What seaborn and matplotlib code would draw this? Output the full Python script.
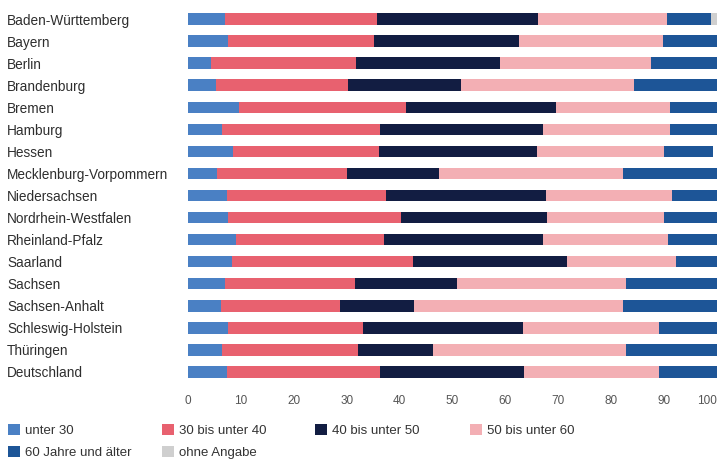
import numpy as np
import pandas as pd
import matplotlib
matplotlib.use("Agg")
import matplotlib.pyplot as plt
from matplotlib.patches import Patch
import seaborn as sns

states = ["Baden-Württemberg", "Bayern", "Berlin", "Brandenburg", "Bremen", "Hamburg",
          "Hessen", "Mecklenburg-Vorpommern", "Niedersachsen", "Nordrhein-Westfalen",
          "Rheinland-Pfalz", "Saarland", "Sachsen", "Sachsen-Anhalt", "Schleswig-Holstein",
          "Thüringen", "Deutschland"]

groups = ["unter 30", "30 bis unter 40", "40 bis unter 50", "50 bis unter 60",
          "60 Jahre und älter", "ohne Angabe"]

unter_30 = [7.0, 7.5, 4.3, 5.3, 9.6, 6.4, 8.5, 5.5, 7.3, 7.5, 9.1, 8.3, 7.0, 6.2, 7.5, 6.4, 7.3]
bis_40 = [28.8, 27.7, 27.5, 24.9, 31.7, 29.9, 27.6, 24.5, 30.1, 32.7, 28.0, 34.2, 24.6, 22.5, 25.6, 25.8, 29.0]
bis_50 = [30.3, 27.4, 27.2, 21.4, 28.3, 30.9, 29.8, 17.5, 30.2, 27.6, 30.1, 29.2, 19.2, 14.0, 30.3, 14.2, 27.2]
bis_60 = [24.4, 27.2, 28.5, 32.7, 21.5, 23.9, 24.1, 34.8, 23.8, 22.2, 23.5, 20.5, 32.0, 39.6, 25.7, 36.4, 25.6]
ab_60 = [8.3, 10.2, 12.5, 15.7, 8.9, 8.9, 9.3, 17.7, 8.6, 10.0, 9.3, 7.8, 17.2, 17.7, 10.9, 17.2, 10.9]
ohne = [1.2, 0, 0, 0, 0, 0, 0, 0, 0, 0, 0, 0, 0, 0, 0, 0, 0]

colors = ["#4a80c4", "#e8616f", "#121d42", "#f3afb4", "#1d5597", "#cfcfcf"]

sns.set_theme(style="white")
plt.rcParams["font.family"] = ["Liberation Sans", "DejaVu Sans"]

df = pd.DataFrame({"Land": states, "g0": unter_30, "g1": bis_40, "g2": bis_50,
                   "g3": bis_60, "g4": ab_60, "g5": ohne})
cols = ["g0", "g1", "g2", "g3", "g4", "g5"]
cum = df[cols].cumsum(axis=1)

W, H = 719, 462
fig = plt.figure(figsize=(W / 100, H / 100), dpi=100)
ax = fig.add_axes([188 / W, 1 - 383 / H, (717 - 188) / W, 375 / H])

# stacked bars: draw running totals from the outermost segment inwards
for i in reversed(range(len(cols))):
    plot_df = pd.DataFrame({"Land": states, "wert": cum[cols[i]]})
    sns.barplot(data=plot_df, y="Land", x="wert", order=states, orient="h",
                color=colors[i], saturation=1, width=0.52, linewidth=0,
                errorbar=None, ax=ax)

ax.set_xlim(0, 100)
ax.set_ylim(len(states) - 0.5, -0.5)
ax.set_xticks(np.arange(0, 101, 10))
ax.set_xlabel("")
ax.set_ylabel("")
for s in ax.spines.values():
    s.set_visible(False)
ax.tick_params(axis="x", length=0, pad=9, labelsize=8.5, labelcolor="#555555")
ax.tick_params(axis="y", length=0, pad=(188 - 7) * 0.72, labelsize=9.8, labelcolor="#2e2e2e")
for lab in ax.get_yticklabels():
    lab.set_horizontalalignment("left")
ax.get_xticklabels()[-1].set_horizontalalignment("right")

# legend laid out as four fixed columns
handles = [Patch(facecolor=c, edgecolor="none") for c in colors]
columns = [([0, 4], 8), ([1, 5], 162), ([2], 315), ([3], 470)]
for idx, x0 in columns:
    fig.legend([handles[k] for k in idx], [groups[k] for k in idx],
               loc="upper left", bbox_to_anchor=(x0 / W, 1 - 424 / H),
               frameon=False, fontsize=9.5, handlelength=0.9, handleheight=0.9,
               handletextpad=0.4, labelspacing=0.7, borderaxespad=0,
               borderpad=0, labelcolor="#333333")

fig.savefig("out.png", dpi=100)
